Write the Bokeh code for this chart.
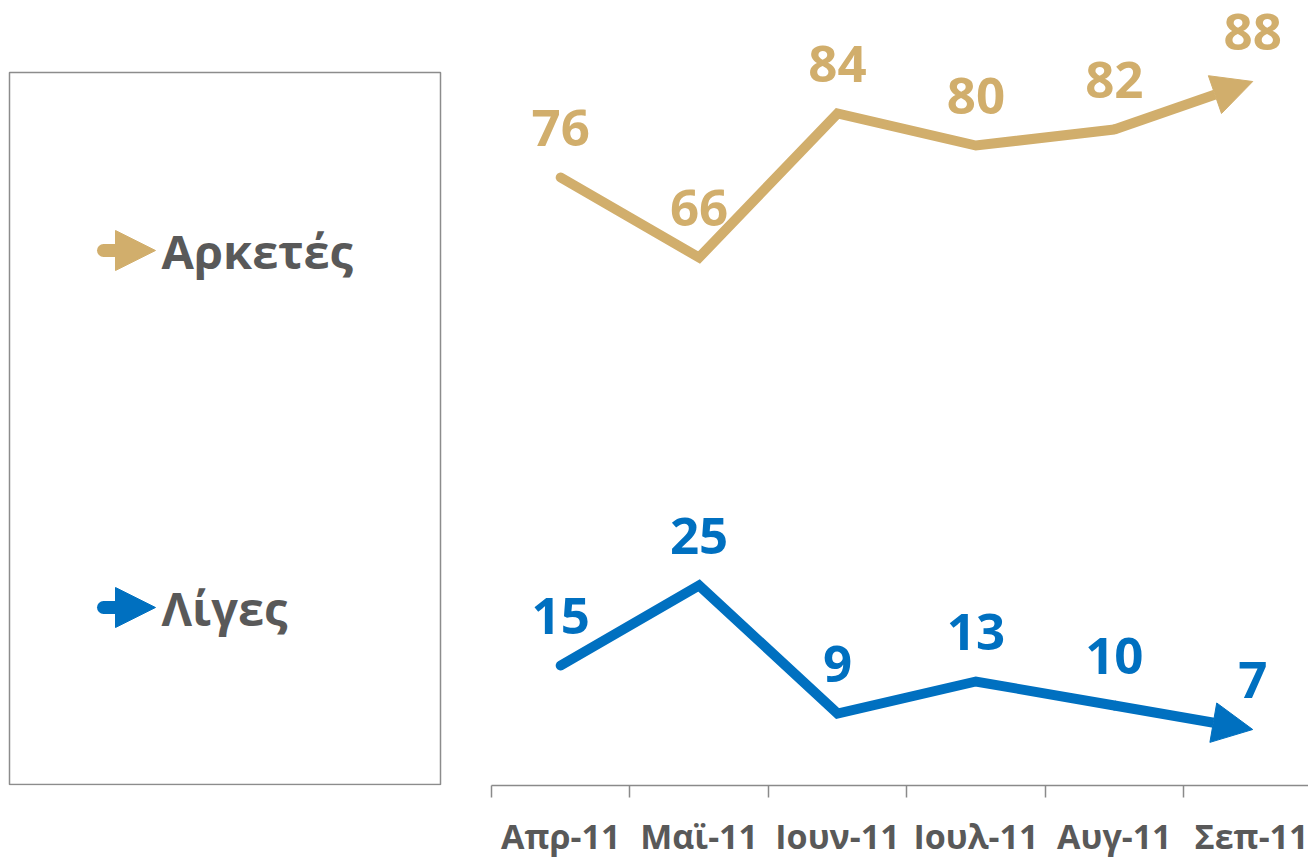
from bokeh.plotting import figure
from bokeh.models import (Range1d, FixedTicker, Arrow, NormalHead, ColumnDataSource)
from bokeh.layouts import row
from bokeh.core.properties import value
from bokeh.embed import file_html
from bokeh.resources import INLINE

# ---- data ----
months = ["Απρ-11", "Μαϊ-11", "Ιουν-11", "Ιουλ-11", "Αυγ-11", "Σεπ-11"]
arketes = [76, 66, 84, 80, 82, 88]
liges = [15, 25, 9, 13, 10, 7]
series_names = ["Αρκετές", "Λίγες"]
series_colors = ["#D1AE6C", "#0070C0"]

FONT = "Open Sans"
GRAY_TXT = "#595959"
AXIS_GRAY = "#8A8A8A"

H = 861
LEG_W = 478
CH_W = 830
FRAME_H = 785   # expected frame height (pixels), used for the legend panel mapping

# ---- chart ----
xs = list(range(len(months)))
p = figure(width=CH_W, height=H, output_backend="svg", toolbar_location=None,
           x_range=Range1d(-0.5, 5.403), y_range=Range1d(0, FRAME_H / 8.0),
           y_axis_location=None, min_border_left=13, min_border_right=0,
           min_border_top=0, min_border_bottom=H - FRAME_H)
p.outline_line_color = None
p.grid.visible = False
p.background_fill_color = "white"
p.border_fill_color = "white"

ax = p.xaxis[0]
ax.ticker = FixedTicker(ticks=xs, minor_ticks=[i - 0.5 for i in range(len(months) + 1)])
ax.major_label_overrides = {i: m for i, m in enumerate(months)}
ax.major_tick_out = 0
ax.major_tick_in = 0
ax.minor_tick_out = 12
ax.minor_tick_in = 0
ax.minor_tick_line_color = AXIS_GRAY
ax.minor_tick_line_width = 1.5
ax.axis_line_color = AXIS_GRAY
ax.axis_line_width = 1.5
ax.major_label_text_font = FONT
ax.major_label_text_font_style = "bold"
ax.major_label_text_font_size = "34px"
ax.major_label_text_color = GRAY_TXT
ax.major_label_standoff = 15

for vals, col in zip([arketes, liges], series_colors):
    n = len(vals)
    p.line(xs[:n - 1], vals[:n - 1], line_color=col, line_width=10,
           line_cap="round", line_join="miter")
    p.add_layout(Arrow(end=NormalHead(size=40, fill_color=col, line_color=col, line_width=1),
                       x_start=xs[n - 2], y_start=vals[n - 2],
                       x_end=xs[n - 1], y_end=vals[n - 1],
                       line_color=col, line_width=10, line_cap="butt"))
    src = ColumnDataSource(dict(x=xs, y=vals, t=[str(v) for v in vals]))
    p.text("x", "y", text="t", source=src, text_align="center",
           text_baseline="alphabetic", y_offset=-50,
           text_font=value(FONT), text_font_style="bold",
           text_font_size="51px", text_color=col)

# ---- legend panel (pixel-unit ranges) ----
lg = figure(width=LEG_W, height=H, output_backend="svg", toolbar_location=None,
            x_range=Range1d(0, LEG_W), y_range=Range1d(FRAME_H, 0),
            x_axis_location=None, y_axis_location=None,
            min_border_left=0, min_border_right=0,
            min_border_top=0, min_border_bottom=H - FRAME_H)
lg.outline_line_color = None
lg.grid.visible = False
lg.background_fill_color = "white"
lg.border_fill_color = "white"

lg.quad(left=[9], right=[440], top=[72], bottom=[FRAME_H - 1], fill_color=None,
        line_color="#8C8C8C", line_width=1.5)

entry_y = [250, 607]
for name, col, yy in zip(series_names, series_colors, entry_y):
    lg.line([103, 125], [yy, yy], line_color=col, line_width=13, line_cap="round")
    lg.add_layout(Arrow(end=NormalHead(size=40, fill_color=col, line_color=col, line_width=1),
                        x_start=103, y_start=yy, x_end=155, y_end=yy,
                        line_color=col, line_width=13, line_cap="butt"))
lg.text([161] * 2, entry_y, text=series_names, text_align="left",
        text_baseline="middle", text_font=value(FONT), text_font_style="bold",
        text_font_size="47px", text_color=GRAY_TXT)

layout = row(lg, p, spacing=0)
open("out.html", "w").write(file_html(layout, INLINE))
